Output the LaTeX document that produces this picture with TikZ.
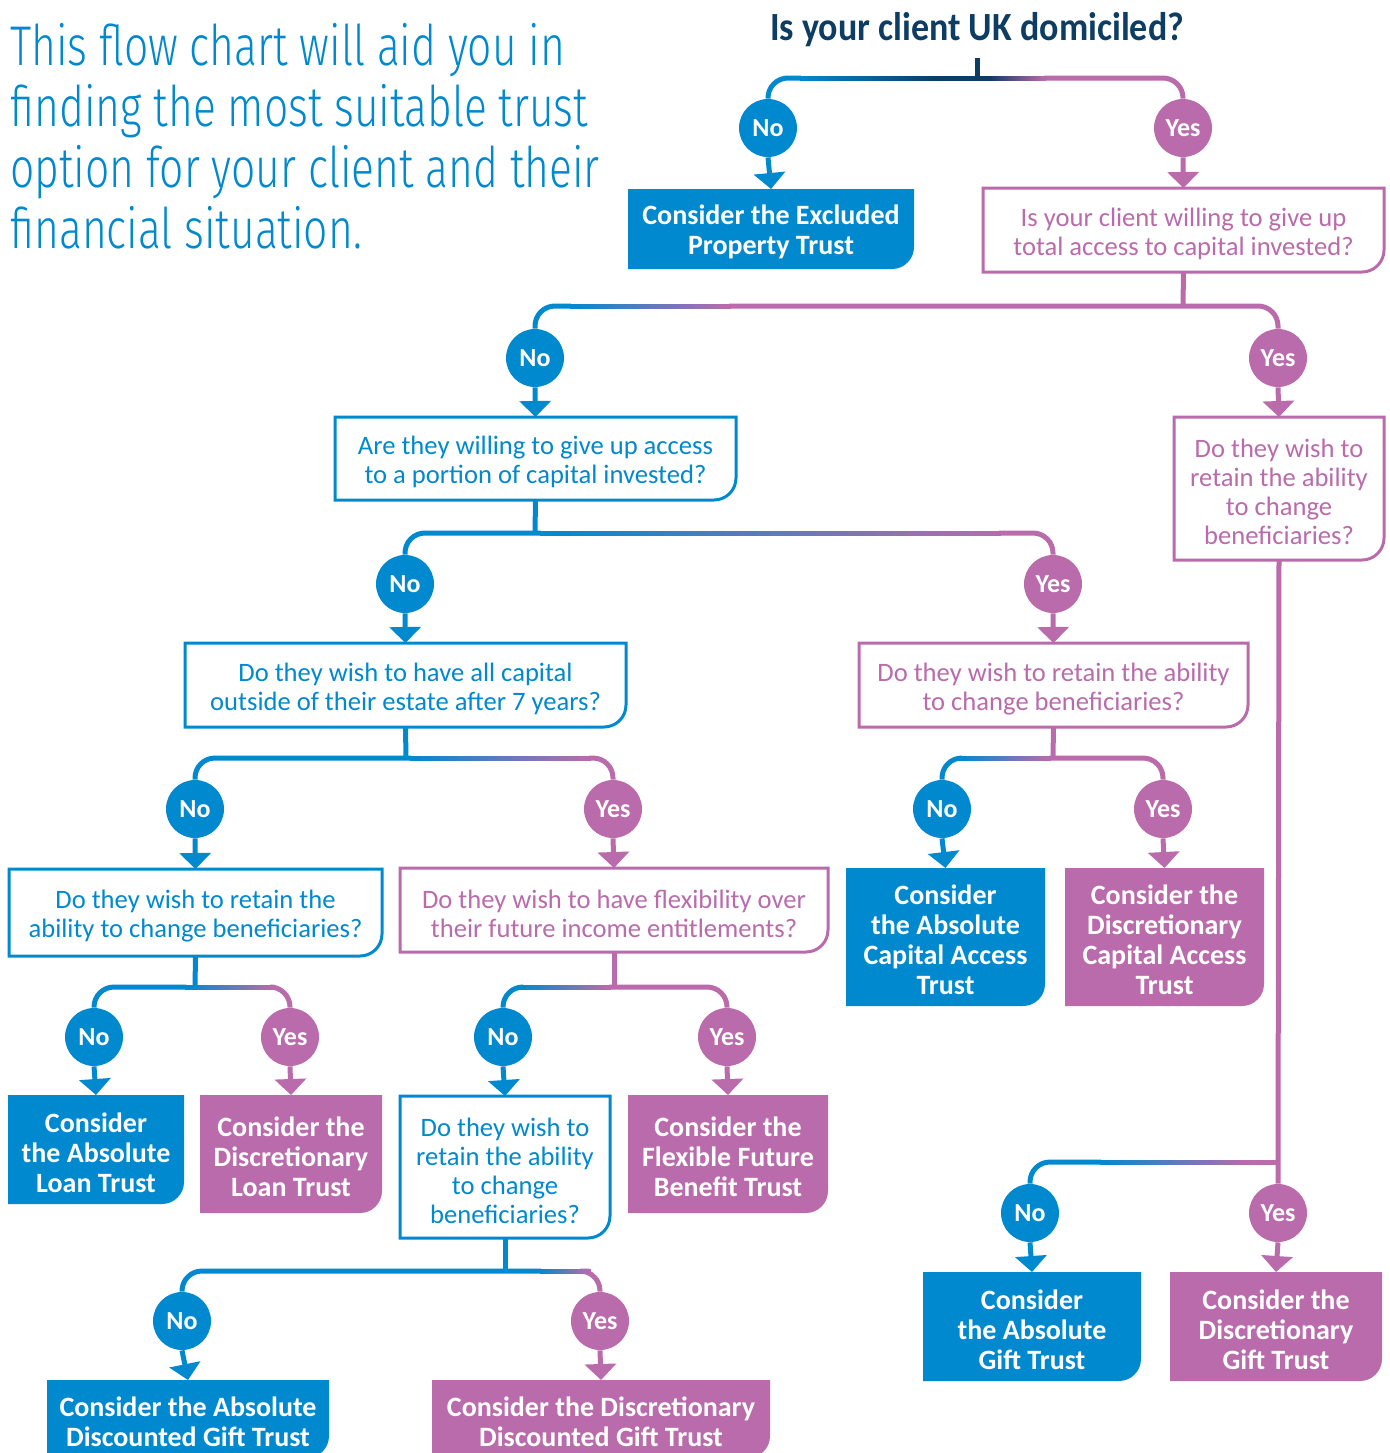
\documentclass[tikz,border=0pt]{standalone}
\usepackage{fontspec}
\setmainfont{Carlito}
\newfontfamily\lightf{Fira Sans Light}[FakeStretch=0.76]
\newfontfamily\titlef{Carlito}[FakeStretch=0.9]
\usetikzlibrary{arrows.meta,calc}
\definecolor{cblue}{RGB}{0,137,207}
\definecolor{cpurp}{RGB}{186,107,171}
\definecolor{cnavy}{RGB}{14,61,99}
\newcommand\qfnt{\fontsize{13.3}{14.5}\selectfont}
\newcommand\rfnt{\bfseries\fontsize{14}{15}\selectfont}
\tikzset{
  conn/.style={line width=2.5pt},
  arr/.style={line width=2.5pt,-{Triangle[width=15.5pt,length=8pt]}},
  circ/.style={circle,minimum size=29pt,inner sep=0pt,text=white,font=\bfseries\fontsize{13}{13}\selectfont},
  noc/.style={circ,fill=cblue},
  yesc/.style={circ,fill=cpurp},
  frame/.style={inner sep=0pt,outer sep=0pt},
  qtext/.style={align=center,font=\qfnt,inner sep=0pt},
  rtext/.style={align=center,font=\rfnt,text=white,inner sep=0pt},
  lead/.style={anchor=base west,inner sep=0pt,text=cblue,font=\lightf\fontsize{28}{30}\selectfont},
}
% outline question box: name, x1, y1, x2, y2, colour, text
\newcommand\outbox[7]{%
  \node[frame,minimum width={(#4-#2)*0.5pt},minimum height={(#5-#3)*0.5pt}] (#1) at ({(#2+#4)/2},{(#3+#5)/2}) {};
  \draw[#6,line width=1.5pt] (#1.north west) -- (#1.north east) -- ([yshift=11pt]#1.south east)
     arc[start angle=0,end angle=-90,radius=11pt] -- (#1.south west) -- cycle;
  \node[qtext,text=#6] (#1-t) at ([yshift=-1.9pt]#1.center) {#7};
}
% solid result box
\newcommand\solbox[7]{%
  \node[frame,minimum width={(#4-#2)*0.5pt},minimum height={(#5-#3)*0.5pt}] (#1) at ({(#2+#4)/2},{(#3+#5)/2}) {};
  \fill[#6] (#1.north west) -- (#1.north east) -- ([yshift=11pt]#1.south east)
     arc[start angle=0,end angle=-90,radius=11pt] -- (#1.south west) -- cycle;
  \node[rtext] (#1-t) at ([yshift=-1.4pt]#1.center) {#7};
}
% colour ramp along a horizontal bar: x1, x2, y, from colour, to colour
\newcommand\gradseg[5]{%
  \foreach \i in {0,...,29}{%
    \pgfmathsetmacro\pa{#1+(#2-#1)*\i/30}%
    \pgfmathsetmacro\pb{#1+(#2-#1)*(\i+1)/30+0.8}%
    \pgfmathtruncatemacro\pc{100*(\i+0.5)/30}%
    \draw[conn,color=#5!\pc!#4] (\pa,#3) -- (\pb,#3);
  }%
}
% branch: no circle, yes circle, y of bar, gradient start, gradient end
\newcommand\branch[5]{%
  \draw[conn,cblue,rounded corners=10pt] (#1.north) |- ({#4+1},#3);
  \draw[conn,cpurp,rounded corners=10pt] (#2.north) |- ({#5-1},#3);
  \gradseg{#4}{#5}{#3}{cblue}{cpurp}
}
\begin{document}
\begin{tikzpicture}[x=0.5pt,y=-0.5pt]
\useasboundingbox (0,0) rectangle (1389,1453);
\fill[white] (0,0) rectangle (1389,1453);
\clip (0,0) rectangle (1389,1453);

% lead text
\node[lead] (t1) at (10,65) {This flow chart will aid you in};
\node[lead] (t2) at (10,126) {finding the most suitable trust};
\node[lead] (t3) at (10,187) {option for your client and their};
\node[lead] (t4) at (10,248) {financial situation.};

% title
\node[anchor=base,inner sep=0pt,text=cnavy,font=\titlef\bfseries\fontsize{20}{20}\selectfont] (title) at (977,40) {Is your client UK domiciled?};
\coordinate (j0s) at (977,58);
\coordinate (j0) at (977,78);

% circles
\node[noc] (c1n) at (768,128) {No};
\node[yesc] (c1y) at (1183,128) {Yes};
\node[noc] (c2n) at (535,358) {No};
\node[yesc] (c2y) at (1278,358) {Yes};
\node[noc] (c3n) at (405,584) {No};
\node[yesc] (c3y) at (1053,584) {Yes};
\node[noc] (c4n) at (195,809) {No};
\node[yesc] (c4y) at (613,809) {Yes};
\node[noc] (c5n) at (942,809) {No};
\node[yesc] (c5y) at (1163,809) {Yes};
\node[noc] (c6n) at (94,1037) {No};
\node[yesc] (c6y) at (290,1037) {Yes};
\node[noc] (c7n) at (503,1037) {No};
\node[yesc] (c7y) at (727,1037) {Yes};
\node[noc] (c8n) at (182,1321) {No};
\node[yesc] (c8y) at (600,1321) {Yes};
\node[noc] (c9n) at (1030,1213) {No};
\node[yesc] (c9y) at (1278,1213) {Yes};

% boxes
\solbox{e1}{628}{189}{914}{269}{cblue}{Consider the Excluded\\Property Trust}
\outbox{q1}{983}{188}{1384}{272}{cpurp}{Is your client willing to give up\\total access to capital invested?}
\outbox{q2}{335}{417}{736}{500}{cblue}{Are they willing to give up access\\to a portion of capital invested?}
\outbox{q3}{1174}{417}{1384}{560}{cpurp}{Do they wish to\\retain the ability\\to change\\beneficiaries?}
\outbox{q4}{185}{643}{626}{727}{cblue}{Do they wish to have all capital\\outside of their estate after 7 years?}
\outbox{q5}{859}{643}{1248}{727}{cpurp}{Do they wish to retain the ability\\to change beneficiaries?}
\outbox{q6}{9}{869}{382}{956}{cblue}{Do they wish to retain the\\ability to change beneficiaries?}
\outbox{q7}{400}{868}{828}{952}{cpurp}{Do they wish to have flexibility over\\their future income entitlements?}
\solbox{r1}{846}{868}{1045}{1006}{cblue}{Consider\\the Absolute\\Capital Access\\Trust}
\solbox{r2}{1065}{868}{1264}{1006}{cpurp}{Consider the\\Discretionary\\Capital Access\\Trust}
\solbox{r3}{8}{1095}{184}{1204}{cblue}{Consider\\the Absolute\\Loan Trust}
\solbox{r4}{200}{1095}{382}{1213}{cpurp}{Consider the\\Discretionary\\Loan Trust}
\outbox{q8}{400}{1096}{610}{1238}{cblue}{Do they wish to\\retain the ability\\to change\\beneficiaries?}
\solbox{r5}{628}{1095}{828}{1213}{cpurp}{Consider the\\Flexible Future\\Benefit Trust}
\solbox{r6}{47}{1380}{329}{1458}{cblue}{Consider the Absolute\\Discounted Gift Trust}
\solbox{r7}{432}{1380}{770}{1458}{cpurp}{Consider the Discretionary\\Discounted Gift Trust}
\solbox{r8}{923}{1272}{1141}{1381}{cblue}{Consider\\the Absolute\\Gift Trust}
\solbox{r9}{1170}{1272}{1382}{1381}{cpurp}{Consider the\\Discretionary\\Gift Trust}

% top connector
\draw[conn,cblue,rounded corners=10pt] (c1n.north) |- (801,78);
\draw[conn,cpurp,rounded corners=10pt] (c1y.north) |- (1044,78);
\gradseg{800}{935}{78}{cblue}{cnavy}
\draw[conn,cnavy] (934,78) -- (991,78);
\gradseg{990}{1045}{78}{cnavy}{cpurp}
\draw[conn,cnavy] (j0s) -- (j0);

% stems
\coordinate (j2) at (1183,306);
\coordinate (j3) at (535,533);
\coordinate (j4) at (406,758);
\coordinate (j5) at (1053,758);
\coordinate (j6) at (195,987);
\coordinate (j7) at (614,987);
\coordinate (j8) at (505,1271);
\coordinate (j9) at (1278,1162);

\branch{c2n}{c2y}{306}{570}{730}
\draw[conn,cpurp] (q1.south) -- (j2);
\branch{c3n}{c3y}{533}{540}{1000}
\draw[conn,cblue] (q2.south) -- (j3);
\branch{c4n}{c4y}{758}{410}{590}
\draw[conn,cblue] (q4.south) -- (j4);
\branch{c5n}{c5y}{758}{960}{1050}
\draw[conn,cpurp] (q5.south) -- (j5);
\branch{c6n}{c6y}{987}{185}{275}
\draw[conn,cblue] (q6.south) -- (j6);
\branch{c7n}{c7y}{987}{520}{610}
\draw[conn,cpurp] (q7.south) -- (j7);
\branch{c8n}{c8y}{1271}{540}{590}
\draw[conn,cblue] (q8.south) -- (j8);

% right long branch
\draw[conn,cpurp] (q3.south) -- (c9y.north);
\draw[conn,cblue,rounded corners=10pt] (c9n.north) |- (1101,1162);
\draw[conn,cpurp] (1249,1162) -- (j9);
\gradseg{1100}{1250}{1162}{cblue}{cpurp}

% arrows
\draw[arr,cblue] (c1n.south) -- (e1.north);
\draw[arr,cpurp] (c1y.south) -- (q1.north);
\draw[arr,cblue] (c2n.south) -- (q2.north);
\draw[arr,cpurp] (c2y.south) -- (q3.north);
\draw[arr,cblue] (c3n.south) -- (q4.north);
\draw[arr,cpurp] (c3y.south) -- (q5.north);
\draw[arr,cblue] (c4n.south) -- (q6.north);
\draw[arr,cpurp] (c4y.south) -- (q7.north);
\draw[arr,cblue] (c5n.south) -- (r1.north);
\draw[arr,cpurp] (c5y.south) -- (r2.north);
\draw[arr,cblue] (c6n.south) -- (r3.north);
\draw[arr,cpurp] (c6y.south) -- (r4.north);
\draw[arr,cblue] (c7n.south) -- (q8.north);
\draw[arr,cpurp] (c7y.south) -- (r5.north);
\draw[arr,cblue] (c8n.south) -- (r6.north);
\draw[arr,cpurp] (c8y.south) -- (r7.north);
\draw[arr,cblue] (c9n.south) -- (r8.north);
\draw[arr,cpurp] (c9y.south) -- (r9.north);
\end{tikzpicture}
\end{document}
